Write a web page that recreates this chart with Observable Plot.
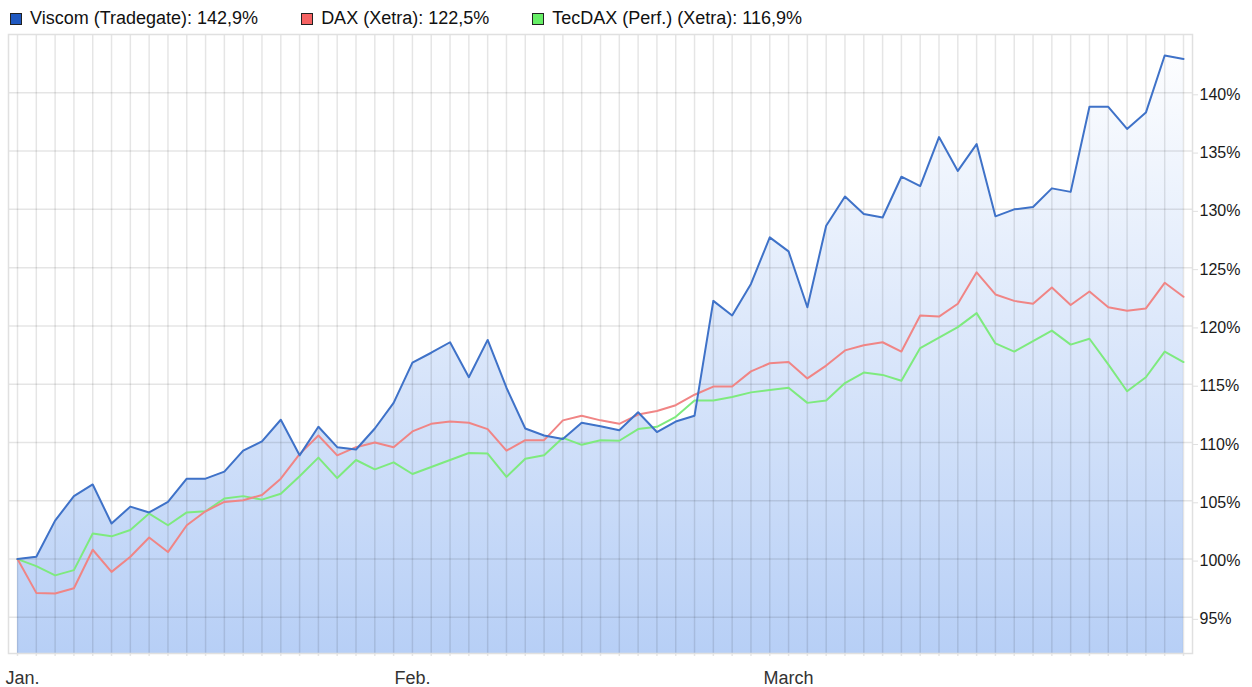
<!DOCTYPE html>
<html><head><meta charset="utf-8">
<script src="https://cdn.jsdelivr.net/npm/d3@7"></script>
<script src="https://cdn.jsdelivr.net/npm/@observablehq/plot@0.6"></script>
<style>
body{margin:0;background:#fff;font-family:"Liberation Sans",Arial,sans-serif;}
#legend{height:30px;display:flex;align-items:flex-start;padding-left:10px;font-size:18px;color:#111;box-sizing:border-box;}
.item{display:flex;align-items:center;margin-right:43px;margin-top:10px;line-height:17px;white-space:nowrap;}
.sw{width:10px;height:10px;border:1px solid #222;margin-right:8px;}
#chart svg{display:block;}
</style></head><body>
<div id="legend"></div><div id="chart"></div>
<script>
// Trading-day series (percent of start value), Jan. – March
const viscom = [100, 100.2, 103.3, 105.4, 106.4, 103.05, 104.5, 104.0, 104.9, 106.9, 106.9, 107.5, 109.3, 110.1, 111.95, 108.9, 111.35, 109.6, 109.4, 111.2, 113.4,
  116.85, 117.7, 118.6, 115.6, 118.8, 114.7, 111.2, 110.6, 110.3, 111.7, 111.4, 111.05, 112.6, 110.9, 111.8, 112.3, 122.15, 120.9, 123.6, 127.6, 126.4, 121.6,
  128.6, 131.1, 129.6, 129.3, 132.8, 132.0, 136.2, 133.3, 135.6, 129.4, 130.0, 130.2, 131.8, 131.5, 138.8, 138.8, 136.9, 138.3, 143.2, 142.9];
const dax = [100, 97.1, 97.05, 97.5, 100.8, 98.9, 100.2, 101.85, 100.6, 102.9, 104.1, 104.9, 105.05, 105.5, 106.9, 109.0, 110.6, 108.9, 109.6, 110.0, 109.6,
  110.95, 111.6, 111.8, 111.7, 111.15, 109.3, 110.2, 110.2, 111.9, 112.3, 111.9, 111.6, 112.4, 112.7, 113.2, 114.1, 114.8, 114.8, 116.1, 116.8, 116.9, 115.5,
  116.6, 117.9, 118.35, 118.6, 117.8, 120.9, 120.8, 121.9, 124.6, 122.7, 122.15, 121.9, 123.3, 121.8, 122.95, 121.6, 121.3, 121.5, 123.7, 122.5];
const tecdax = [100, 99.4, 98.6, 99.05, 102.2, 101.95, 102.5, 103.9, 102.9, 104.0, 104.1, 105.2, 105.4, 105.1, 105.6, 107.1, 108.7, 106.95, 108.5, 107.7, 108.3,
  107.3, 107.9, 108.5, 109.1, 109.05, 107.05, 108.6, 108.9, 110.4, 109.8, 110.2, 110.15, 111.15, 111.35, 112.2, 113.6, 113.6, 113.9, 114.3, 114.5, 114.7, 113.4,
  113.6, 115.1, 116.0, 115.8, 115.3, 118.1, 119.0, 119.9, 121.1, 118.5, 117.8, 118.7, 119.6, 118.4, 118.9, 116.7, 114.4, 115.6, 117.8, 116.9];
const seriesNames = ["Viscom (Tradegate)", "DAX (Xetra)", "TecDAX (Perf.) (Xetra)"];
const monthLabels = ["Jan.", "Feb.", "March"];
const monthStart = [0, 21, 41];
const yTicks = [95, 100, 105, 110, 115, 120, 125, 130, 135, 140];

const lineColors = ["#3f72c8", "#f08585", "#7eea7e"];
const swatchColors = ["#1f58c0", "#f56262", "#66ee66"];

const data = viscom.map((v, i) => ({i, viscom: v, dax: dax[i], tecdax: tecdax[i]}));
const months = monthLabels.map((label, k) => ({label, i: monthStart[k]}));

// legend
const fmt = v => v.toFixed(1).replace(".", ",") + "%";
const lasts = [viscom, dax, tecdax].map(a => a[a.length - 1]);
const legend = document.getElementById("legend");
seriesNames.forEach((n, k) => {
  const it = document.createElement("div"); it.className = "item";
  const sw = document.createElement("div"); sw.className = "sw"; sw.style.background = swatchColors[k];
  const tx = document.createElement("span"); tx.textContent = `${n}: ${fmt(lasts[k])}`;
  it.append(sw, tx); legend.append(it);
});

const grid = {stroke: "#000", strokeOpacity: 0.1, strokeWidth: 1.5};
const plot = Plot.plot({
  width: 1252, height: 657,
  marginTop: 4, marginBottom: 34, marginLeft: 8, marginRight: 60,
  x: {domain: [0, viscom.length - 1], insetLeft: 9, insetRight: 9, axis: null},
  y: {domain: [91.9, 145], axis: null},
  style: {fontFamily: "Liberation Sans, Arial, sans-serif", fontSize: "16px", background: "#fff", overflow: "visible"},
  marks: [
    Plot.areaY(data, {x: "i", y: "viscom", fill: "url(#viscomGrad)", clip: true}),
    Plot.ruleX(data, {x: "i", ...grid, insetBottom: -3}),
    Plot.ruleY(yTicks, {...grid}),
    Plot.frame({stroke: "#e0e0e0", strokeWidth: 1.5}),
    Plot.axisY(yTicks, {anchor: "right", tickSize: 5, tickPadding: 2, stroke: "#e0e0e0", fill: "#1a1a1a",
      tickFormat: d => d + "%", fontSize: 16, dy: 2}),
    Plot.lineY(data, {x: "i", y: "tecdax", stroke: lineColors[2], strokeWidth: 2}),
    Plot.lineY(data, {x: "i", y: "dax", stroke: lineColors[1], strokeWidth: 2}),
    Plot.lineY(data, {x: "i", y: "viscom", stroke: lineColors[0], strokeWidth: 2}),
    Plot.text(months.slice(0, 1), {x: "i", text: "label", frameAnchor: "bottom", lineAnchor: "bottom",
      textAnchor: "start", dx: -12, dy: 30, fontSize: 18, fill: "#333"}),
    Plot.text(months.slice(1), {x: "i", text: "label", frameAnchor: "bottom", lineAnchor: "bottom",
      textAnchor: "middle", dy: 30, fontSize: 18, fill: "#333"})
  ]
});
const ys = plot.scale("y");
const ns = "http://www.w3.org/2000/svg";
const defs = document.createElementNS(ns, "defs");
defs.innerHTML = `<linearGradient id="viscomGrad" gradientUnits="userSpaceOnUse" x1="0" x2="0" y1="${ys.apply(ys.domain[1])}" y2="${ys.apply(ys.domain[0])}"><stop offset="0" stop-color="#ffffff"/><stop offset="1" stop-color="#b7cff6"/></linearGradient>`;
plot.prepend(defs);
document.getElementById("chart").append(plot);
</script>
</body></html>
